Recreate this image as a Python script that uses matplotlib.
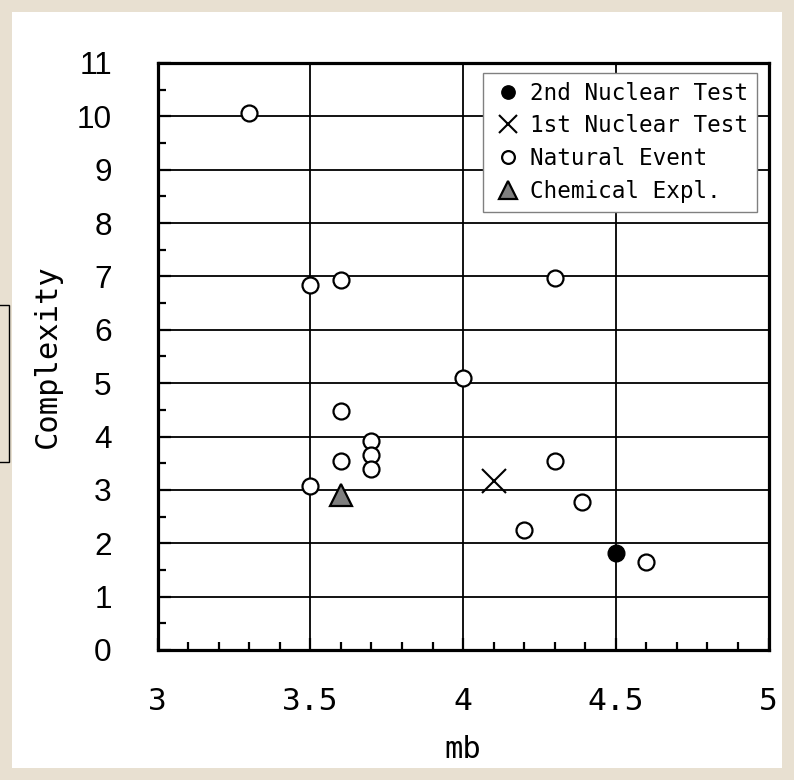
import matplotlib
matplotlib.use('Agg')
import matplotlib.pyplot as plt
from matplotlib.patches import Rectangle
from matplotlib.ticker import MultipleLocator

# mb / complexity for each event type
natural_mb = [3.3, 3.5, 3.6, 4.3, 4.0, 3.6, 3.7, 3.7, 3.7, 3.6, 3.5, 4.3, 4.39, 4.2, 4.6]
natural_cx = [10.06, 6.83, 6.93, 6.97, 5.09, 4.48, 3.92, 3.66, 3.40, 3.54, 3.07, 3.54, 2.77, 2.25, 1.64]
nuclear2_mb = [4.5]
nuclear2_cx = [1.82]
nuclear1_mb = [4.1]
nuclear1_cx = [3.17]
chem_mb = [3.6]
chem_cx = [2.90]

x_ticks = [3, 3.5, 4, 4.5, 5]
x_ticklabels = ['3', '3.5', '4', '4.5', '5']
y_ticks = list(range(0, 12))

mono = 'DejaVu Sans Mono'
sans = 'Liberation Sans'

fig = plt.figure(figsize=(7.94, 7.8), dpi=100)
fig.patch.set_facecolor('#e8e0d1')

# white sheet behind the plot
fig.patches.append(Rectangle((12 / 794, 12 / 780), 770 / 794, 756 / 780,
                             transform=fig.transFigure, facecolor='white',
                             edgecolor='none', zorder=-10))
# edge of the neighbouring box on the left
fig.patches.append(Rectangle((-0.02, 0.408), 0.031, 0.201,
                             transform=fig.transFigure, facecolor='none',
                             edgecolor='black', linewidth=1.0, zorder=-5))

ax = fig.add_axes([0.1986, 0.1667, 0.7693, 0.7526])
ax.set_facecolor('white')

ax.plot(natural_mb, natural_cx, linestyle='none', marker='o', ms=11.5,
        mfc='white', mec='black', mew=1.6, label='Natural Event', zorder=3)
ax.plot(nuclear2_mb, nuclear2_cx, linestyle='none', marker='o', ms=12,
        mfc='black', mec='black', mew=1.0, label='2nd Nuclear Test', zorder=3)
ax.plot(nuclear1_mb, nuclear1_cx, linestyle='none', marker='x', ms=17,
        color='black', mew=1.5, label='1st Nuclear Test', zorder=3)
ax.plot(chem_mb, chem_cx, linestyle='none', marker='^', ms=15.5,
        mfc='#7f7f7f', mec='black', mew=1.6, label='Chemical Expl.', zorder=3)

ax.set_xlim(3, 5)
ax.set_ylim(0, 11)
ax.set_xticks(x_ticks)
ax.set_xticklabels(x_ticklabels, fontfamily=mono, fontsize=22.5)
ax.set_yticks(y_ticks)
ax.set_yticklabels([str(v) for v in y_ticks], fontfamily=sans, fontsize=22.7)
ax.xaxis.set_minor_locator(MultipleLocator(0.1))
ax.yaxis.set_minor_locator(MultipleLocator(0.5))

ax.tick_params(axis='both', which='both', direction='in', width=1.6, color='black')
ax.tick_params(axis='both', which='major', length=9)
ax.tick_params(axis='both', which='minor', length=5.5)
ax.tick_params(axis='x', which='major', pad=27)
ax.tick_params(axis='y', which='major', pad=33)

ax.grid(True, which='major', color='black', linewidth=1.3)
ax.set_axisbelow(True)
for s in ax.spines.values():
    s.set_linewidth(2.3)
    s.set_color('black')

ax.set_xlabel('mb', fontfamily=mono, fontsize=22)
ax.set_ylabel('Complexity', fontfamily=mono, fontsize=22)
ax.xaxis.set_label_coords(0.5, -0.145)
ax.yaxis.set_label_coords(-0.157, 0.5)

handles, labels = ax.get_legend_handles_labels()
order = [1, 2, 0, 3]
leg = ax.legend([handles[i] for i in order], [labels[i] for i in order],
                loc='upper right', bbox_to_anchor=(0.981, 0.9835), borderaxespad=0,
                prop={'family': mono, 'size': 16.3}, markerscale=0.8,
                frameon=True, fancybox=False, framealpha=1, edgecolor='#808080',
                borderpad=0.4, handlelength=1.4, handletextpad=0.25, labelspacing=0.43)
leg.get_frame().set_linewidth(1.0)
leg.set_zorder(5)

fig.savefig('out.png', dpi=100)
